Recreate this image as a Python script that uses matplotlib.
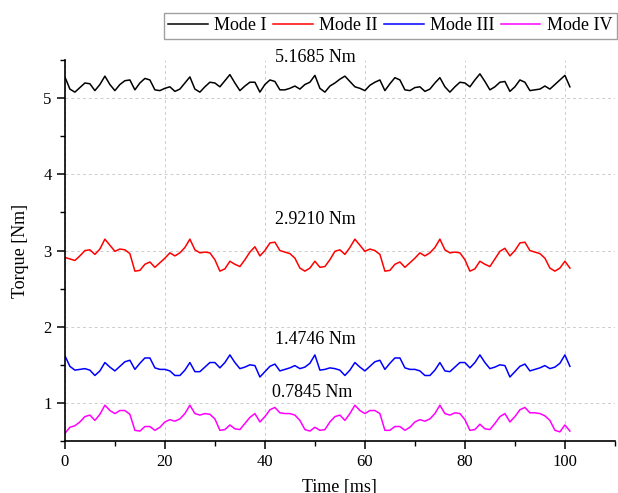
import numpy as np
import matplotlib
matplotlib.use("Agg")
import matplotlib.pyplot as plt
from matplotlib.ticker import MultipleLocator

# Time axis [ms], one sample per ms
time_ms = list(range(0, 102))

mode_1 = [5.28, 5.12, 5.08, 5.14, 5.20, 5.19, 5.10, 5.18, 5.29, 5.18,
          5.10, 5.18, 5.23, 5.24, 5.11, 5.20, 5.26, 5.24, 5.11, 5.10,
          5.13, 5.15, 5.09, 5.12, 5.20, 5.28, 5.12, 5.08, 5.15, 5.21,
          5.20, 5.15, 5.23, 5.31, 5.20, 5.10, 5.16, 5.21, 5.21, 5.08,
          5.18, 5.24, 5.22, 5.11, 5.11, 5.13, 5.16, 5.12, 5.18, 5.21,
          5.30, 5.13, 5.08, 5.16, 5.20, 5.25, 5.29, 5.22, 5.15, 5.13,
          5.10, 5.17, 5.21, 5.24, 5.10, 5.19, 5.27, 5.24, 5.11, 5.10,
          5.14, 5.15, 5.09, 5.12, 5.20, 5.27, 5.15, 5.08, 5.15, 5.21,
          5.20, 5.15, 5.24, 5.32, 5.22, 5.11, 5.15, 5.21, 5.22, 5.09,
          5.15, 5.24, 5.21, 5.10, 5.11, 5.12, 5.16, 5.12, 5.18, 5.24,
          5.30, 5.15]

mode_2 = [2.91, 2.89, 2.87, 2.93, 3.00, 3.01, 2.95, 3.02, 3.15, 3.07,
          2.99, 3.02, 3.01, 2.96, 2.73, 2.74, 2.82, 2.85, 2.78, 2.84,
          2.90, 2.97, 2.93, 2.97, 3.04, 3.15, 3.01, 2.97, 2.98, 2.97,
          2.88, 2.73, 2.76, 2.86, 2.82, 2.79, 2.88, 2.98, 3.05, 2.93,
          3.00, 3.10, 3.11, 3.00, 2.98, 2.96, 2.90, 2.77, 2.73, 2.77,
          2.86, 2.78, 2.79, 2.88, 2.99, 3.01, 2.95, 3.04, 3.15, 3.07,
          2.99, 3.02, 3.00, 2.95, 2.73, 2.74, 2.82, 2.85, 2.78, 2.84,
          2.90, 2.97, 2.93, 2.97, 3.04, 3.15, 3.01, 2.97, 2.98, 2.97,
          2.88, 2.73, 2.76, 2.86, 2.82, 2.79, 2.89, 2.99, 3.03, 2.93,
          3.00, 3.10, 3.11, 3.00, 2.98, 2.96, 2.90, 2.77, 2.73, 2.77,
          2.86, 2.77]

mode_3 = [1.62, 1.48, 1.43, 1.44, 1.45, 1.43, 1.36, 1.42, 1.53, 1.47,
          1.42, 1.48, 1.54, 1.56, 1.44, 1.52, 1.59, 1.59, 1.46, 1.44,
          1.44, 1.42, 1.36, 1.36, 1.43, 1.53, 1.41, 1.41, 1.47, 1.53,
          1.53, 1.46, 1.53, 1.63, 1.53, 1.45, 1.47, 1.50, 1.49, 1.34,
          1.41, 1.48, 1.51, 1.42, 1.44, 1.46, 1.49, 1.45, 1.47, 1.52,
          1.63, 1.43, 1.44, 1.46, 1.45, 1.43, 1.36, 1.43, 1.53, 1.47,
          1.42, 1.48, 1.54, 1.56, 1.44, 1.52, 1.59, 1.59, 1.46, 1.44,
          1.44, 1.42, 1.36, 1.36, 1.43, 1.53, 1.42, 1.41, 1.47, 1.53,
          1.53, 1.46, 1.53, 1.63, 1.53, 1.45, 1.47, 1.50, 1.49, 1.34,
          1.41, 1.48, 1.51, 1.42, 1.44, 1.46, 1.49, 1.45, 1.47, 1.52,
          1.63, 1.48]

mode_4 = [0.60, 0.68, 0.70, 0.75, 0.82, 0.84, 0.77, 0.85, 0.97, 0.90,
          0.86, 0.90, 0.90, 0.85, 0.64, 0.63, 0.69, 0.69, 0.64, 0.68,
          0.75, 0.78, 0.76, 0.79, 0.86, 0.97, 0.86, 0.84, 0.86, 0.85,
          0.79, 0.64, 0.65, 0.71, 0.66, 0.65, 0.73, 0.81, 0.86, 0.75,
          0.82, 0.91, 0.94, 0.87, 0.86, 0.86, 0.84, 0.77, 0.65, 0.63,
          0.68, 0.64, 0.65, 0.75, 0.82, 0.84, 0.77, 0.86, 0.97, 0.90,
          0.86, 0.90, 0.90, 0.86, 0.64, 0.64, 0.69, 0.69, 0.64, 0.68,
          0.75, 0.78, 0.76, 0.79, 0.86, 0.97, 0.86, 0.84, 0.87, 0.86,
          0.78, 0.64, 0.65, 0.72, 0.66, 0.65, 0.73, 0.82, 0.86, 0.75,
          0.82, 0.91, 0.94, 0.87, 0.87, 0.86, 0.83, 0.77, 0.64, 0.62,
          0.71, 0.63]

labels = ["Mode I", "Mode II", "Mode III", "Mode IV"]
colors = ["black", "#ff0000", "#0000ff", "#ff00ff"]
means = ["5.1685 Nm", "2.9210 Nm", "1.4746 Nm", "0.7845 Nm"]
mean_pos = [(50, 5.54), (50, 3.41), (50, 1.83), (49.5, 1.14)]

plt.rcParams["font.family"] = ["Liberation Serif", "DejaVu Serif"]

fig = plt.figure(figsize=(6.18, 4.93), dpi=100)
ax = fig.add_axes([0.105, 0.1055, 0.89, 0.7725])

for y, lab, c in zip([mode_1, mode_2, mode_3, mode_4], labels, colors):
    ax.plot(time_ms, y, color=c, lw=1.1, label=lab)

for txt, (tx, ty) in zip(means, mean_pos):
    ax.text(tx, ty, txt, ha="center", va="center", fontsize=13, clip_on=False)

ax.set_xlim(0, 110)
ax.set_ylim(0.5, 5.5)
ax.xaxis.set_major_locator(MultipleLocator(20))
ax.xaxis.set_minor_locator(MultipleLocator(10))
ax.yaxis.set_major_locator(MultipleLocator(1))
ax.yaxis.set_minor_locator(MultipleLocator(0.5))
ax.set_xticks([0, 20, 40, 60, 80, 100])

ax.grid(True, which="major", ls=(0, (3, 3)), color="#cccccc", lw=0.7)
ax.spines["top"].set_visible(False)
ax.spines["right"].set_visible(False)
ax.spines["left"].set_linewidth(1.2)
ax.spines["bottom"].set_linewidth(1.2)
ax.tick_params(which="major", direction="out", length=6, width=1.1, labelsize=12)
ax.tick_params(which="minor", direction="out", length=3.5, width=1.0)

ax.set_xlabel("Time [ms]", fontsize=13, labelpad=6)
ax.set_ylabel("Torque [Nm]", fontsize=13, labelpad=10)

leg = ax.legend(loc="upper right", bbox_to_anchor=(0.998, 0.974),
                bbox_transform=fig.transFigure, ncol=4, fontsize=13,
                frameon=True, fancybox=False, edgecolor="#888888",
                borderaxespad=0, handlelength=2.2, handletextpad=0.35,
                columnspacing=0.35, borderpad=0.25)
leg.get_frame().set_linewidth(1.0)

fig.savefig("out.png", dpi=100)
